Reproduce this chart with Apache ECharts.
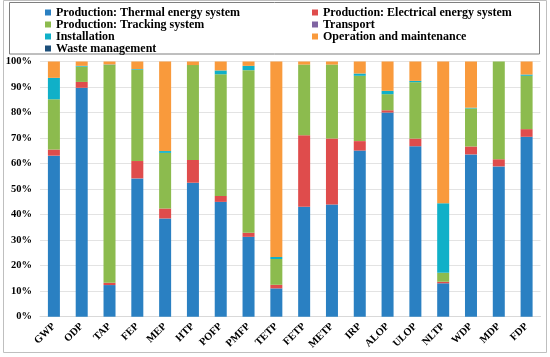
<!DOCTYPE html>
<html><head><meta charset="utf-8">
<script src="https://cdn.jsdelivr.net/npm/echarts@6/dist/echarts.min.js"></script>
<style>html,body{margin:0;padding:0;background:#fff}#c{width:550px;height:357px}</style>
</head><body><div id="c"></div>
<script>
const categories = ['GWP','ODP','TAP','FEP','MEP','HTP','POFP','PMFP','TETP','FETP','METP','IRP','ALOP','ULOP','NLTP','WDP','MDP','FDP'];
const thermal     = [63.1,89.7,12.4,54.2,38.5,52.5,45.0,31.3,11.1,43.1,44.0,65.1,80.0,66.8,13.1,63.6,58.9,70.5];
const electrical  = [2.4,2.3,0.9,6.8,3.9,8.9,2.3,1.6,1.4,28.0,25.8,3.7,0.9,3.0,0.6,3.1,2.8,3.0];
const tracking    = [19.7,6.0,85.3,35.7,21.8,37.2,47.7,63.7,10.1,27.7,29.0,25.6,6.3,22.1,3.5,14.9,38.3,20.9];
const transport   = [0,0,0,0,0,0,0,0,0,0,0,0,0,0,0,0,0,0];
const installation= [8.4,0.3,0.2,0.3,0.7,0,1.5,1.7,0.8,0,0,0.9,1.3,0.5,27.3,0.3,0,0.5];
const operation   = [6.4,1.7,1.2,3.0,35.1,1.4,3.5,1.7,76.6,1.2,1.2,4.7,11.5,7.6,55.5,18.1,0,5.1];
const waste       = [0,0,0,0,0,0,0,0,0,0,0,0,0,0,0,0,0,0];
const yTicks = [0,10,20,30,40,50,60,70,80,90,100];

const names = ['Production: Thermal energy system','Production: Electrical energy system','Production: Tracking system','Transport','Installation','Operation and maintenance','Waste management'];
const colors = ['#2a80c2','#df4c4c','#8cbb4e','#8064a2','#10b0c8','#f99a3c','#1c4f7a'];
const datas = [thermal,electrical,tracking,transport,installation,operation,waste];

const font = '"Liberation Serif","Times New Roman",serif';
const chart = echarts.init(document.getElementById('c'));
const legTxt = {fontFamily:font,fontWeight:'bold',fontSize:12,lineHeight:12,color:'#000'};
chart.setOption({
  animation:false,
  color:colors,
  legend:[
    {data:[names[0],names[2],names[4],names[6]],orient:'vertical',left:45,top:6.5,padding:0,itemGap:0,itemWidth:6,itemHeight:6,icon:'rect',selectedMode:false,textStyle:legTxt},
    {data:[names[1],names[3],names[5]],orient:'vertical',left:312,top:6.5,padding:0,itemGap:0,itemWidth:6,itemHeight:6,icon:'rect',selectedMode:false,textStyle:legTxt}
  ],
  graphic:[
    {type:'rect',shape:{x:3.5,y:0.5,width:543,height:352},style:{fill:'none',stroke:'#bfbfbf',lineWidth:1},silent:true},
    {type:'rect',shape:{x:9.5,y:2.5,width:530,height:51.5},style:{fill:'none',stroke:'#7f7f7f',lineWidth:1},silent:true}
  ],
  grid:{left:40,right:9.5,top:61.5,bottom:40.3},
  xAxis:{type:'category',data:categories,
    axisLine:{show:true,lineStyle:{color:'#d9d9d9'}},axisTick:{show:false},
    axisLabel:{rotate:45,margin:8,fontFamily:font,fontWeight:'bold',fontSize:10.5,color:'#000',interval:0}},
  yAxis:{type:'value',min:yTicks[0],max:yTicks[yTicks.length-1],interval:10,
    axisLine:{show:false},axisTick:{show:false},
    splitLine:{lineStyle:{color:'#e3e3e3'}},
    axisLabel:{formatter:'{value}%',margin:8,fontFamily:font,fontWeight:'bold',fontSize:10.5,color:'#000'}},
  series:names.map((n,i)=>({name:n,type:'bar',stack:'a',data:datas[i],barWidth:12,itemStyle:{color:colors[i]}}))
});
</script></body></html>
